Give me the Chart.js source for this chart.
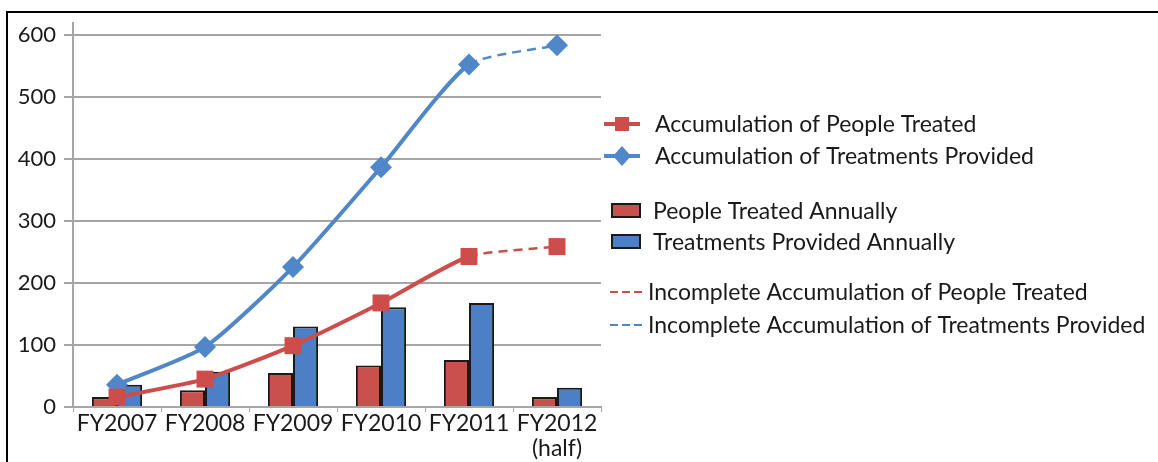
<!DOCTYPE html>
<html>
<head>
<meta charset="utf-8">
<script src="https://cdn.jsdelivr.net/npm/chart.js@4/dist/chart.umd.min.js"></script>
<style>
  body { margin: 0; background: #fff; }
  #wrap { position: relative; width: 1158px; height: 462px; }
  #frame { position: absolute; left: 6px; top: 11px; right: 0; bottom: 0; border-top: 2px solid #000; border-left: 2px solid #000; pointer-events: none; }
</style>
</head>
<body>
<div id="wrap">
  <canvas id="myChart" width="1158" height="462"></canvas>
  <div id="frame"></div>
</div>
<script>
// categories and values
var categories = ['FY2007', 'FY2008', 'FY2009', 'FY2010', 'FY2011', ['FY2012', '(half)']];
var peopleAnnual = [16, 27, 55, 67, 76, 16];
var treatmentsAnnual = [36, 57, 130, 161, 168, 31];
var peopleCumulative = [16, 45, 99, 168, 243, 259];
var treatmentsCumulative = [36, 97, 226, 387, 553, 584];
var yTicks = [0, 100, 200, 300, 400, 500, 600];
var legendLabels = [
  'Accumulation of People Treated',
  'Accumulation of Treatments Provided',
  'People Treated Annually',
  'Treatments Provided Annually',
  'Incomplete Accumulation of People Treated',
  'Incomplete Accumulation of Treatments Provided'
];

var red = '#cd4d4a', blue = '#4f87c9';
var redBar = '#c9504d', blueBar = '#4b80c6';
var font = 'Lato, "Open Sans", sans-serif';

// last segment (half year) is dashed
function dashLast(ctx) {
  return ctx.p0DataIndex === categories.length - 2 ? [9, 6] : undefined;
}
function widthLast(ctx) {
  return ctx.p0DataIndex === categories.length - 2 ? 2.5 : 4;
}

var legendPlugin = {
  id: 'sideLegend',
  afterDraw: function(chart) {
    var c = chart.ctx;
    var rows = [
      { kind: 'line', color: red, marker: 'rect', y: 124, tx: 655 },
      { kind: 'line', color: blue, marker: 'diamond', y: 156, tx: 655 },
      { kind: 'box', color: redBar, y: 211, tx: 653 },
      { kind: 'box', color: blueBar, y: 242, tx: 653 },
      { kind: 'dash', color: red, y: 292, tx: 648 },
      { kind: 'dash', color: blue, y: 325, tx: 648 }
    ];
    c.save();
    rows.forEach(function(r, i) {
      if (r.kind === 'line') {
        c.strokeStyle = r.color;
        c.lineWidth = 4;
        c.beginPath(); c.moveTo(604, r.y); c.lineTo(640, r.y); c.stroke();
        c.fillStyle = r.color;
        if (r.marker === 'rect') {
          c.fillRect(615, r.y - 7, 14, 14);
        } else {
          c.beginPath();
          c.moveTo(622, r.y - 10); c.lineTo(631, r.y); c.lineTo(622, r.y + 10); c.lineTo(613, r.y);
          c.closePath(); c.fill();
        }
      } else if (r.kind === 'box') {
        c.fillStyle = r.color;
        c.strokeStyle = '#1a1a1a';
        c.lineWidth = 2;
        c.fillRect(612, r.y - 7, 28, 13);
        c.strokeRect(612, r.y - 7, 28, 13);
      } else {
        c.strokeStyle = r.color;
        c.lineWidth = 2;
        c.setLineDash([8, 4]);
        c.beginPath(); c.moveTo(610, r.y); c.lineTo(642, r.y); c.stroke();
        c.setLineDash([]);
      }
      c.fillStyle = '#1a1a1a';
      c.font = '23px ' + font;
      c.textBaseline = 'middle';
      c.textAlign = 'left';
      c.fillText(legendLabels[i], r.tx, r.y + 1);
    });
    c.restore();
  }
};

var ctx = document.getElementById('myChart').getContext('2d');
var chart = new Chart(ctx, {
  data: {
    labels: categories,
    datasets: [{
      type: 'line',
      label: legendLabels[0],
      data: peopleCumulative,
      borderColor: red,
      backgroundColor: red,
      borderWidth: 4,
      tension: 0.2,
      pointStyle: 'rect',
      pointRadius: 12,
      pointBorderWidth: 0,
      segment: { borderDash: dashLast, borderWidth: widthLast },
      order: 0
    }, {
      type: 'line',
      label: legendLabels[1],
      data: treatmentsCumulative,
      borderColor: blue,
      backgroundColor: blue,
      borderWidth: 4,
      tension: 0.2,
      pointStyle: 'rectRot',
      pointRadius: 11,
      pointBorderWidth: 0,
      segment: { borderDash: dashLast, borderWidth: widthLast },
      order: 0
    }, {
      type: 'bar',
      label: legendLabels[2],
      data: peopleAnnual,
      backgroundColor: redBar,
      borderColor: '#1a1a1a',
      borderWidth: 2,
      borderSkipped: 'bottom',
      barPercentage: 1,
      categoryPercentage: 0.57,
      order: 1
    }, {
      type: 'bar',
      label: legendLabels[3],
      data: treatmentsAnnual,
      backgroundColor: blueBar,
      borderColor: '#1a1a1a',
      borderWidth: 2,
      borderSkipped: 'bottom',
      barPercentage: 1,
      categoryPercentage: 0.57,
      order: 1
    }]
  },
  options: {
    responsive: false,
    animation: false,
    layout: { padding: { left: 0, right: 557, top: 23, bottom: 0 } },
    plugins: { legend: { display: false }, tooltip: { enabled: false } },
    scales: {
      x: {
        offset: true,
        grid: { display: true, drawOnChartArea: false, drawTicks: true, tickLength: 5, color: '#a6a6a6', offset: true },
        border: { color: '#a6a6a6', width: 2 },
        ticks: { color: '#1a1a1a', font: { family: font, size: 23, lineHeight: 1.05 }, padding: 0, maxRotation: 0, autoSkip: false },
        afterFit: function(s) { s.height = 55; }
      },
      y: {
        min: 0,
        max: 620,
        afterBuildTicks: function(s) { s.ticks = yTicks.map(function(v) { return { value: v }; }); },
        grid: { color: '#a6a6a6', lineWidth: 2, tickLength: 9 },
        border: { color: '#a6a6a6', width: 2 },
        ticks: { color: '#1a1a1a', font: { family: font, size: 22 }, padding: 8 },
        afterFit: function(s) { s.width = 73; }
      }
    }
  },
  plugins: [legendPlugin]
});
</script>
</body>
</html>
